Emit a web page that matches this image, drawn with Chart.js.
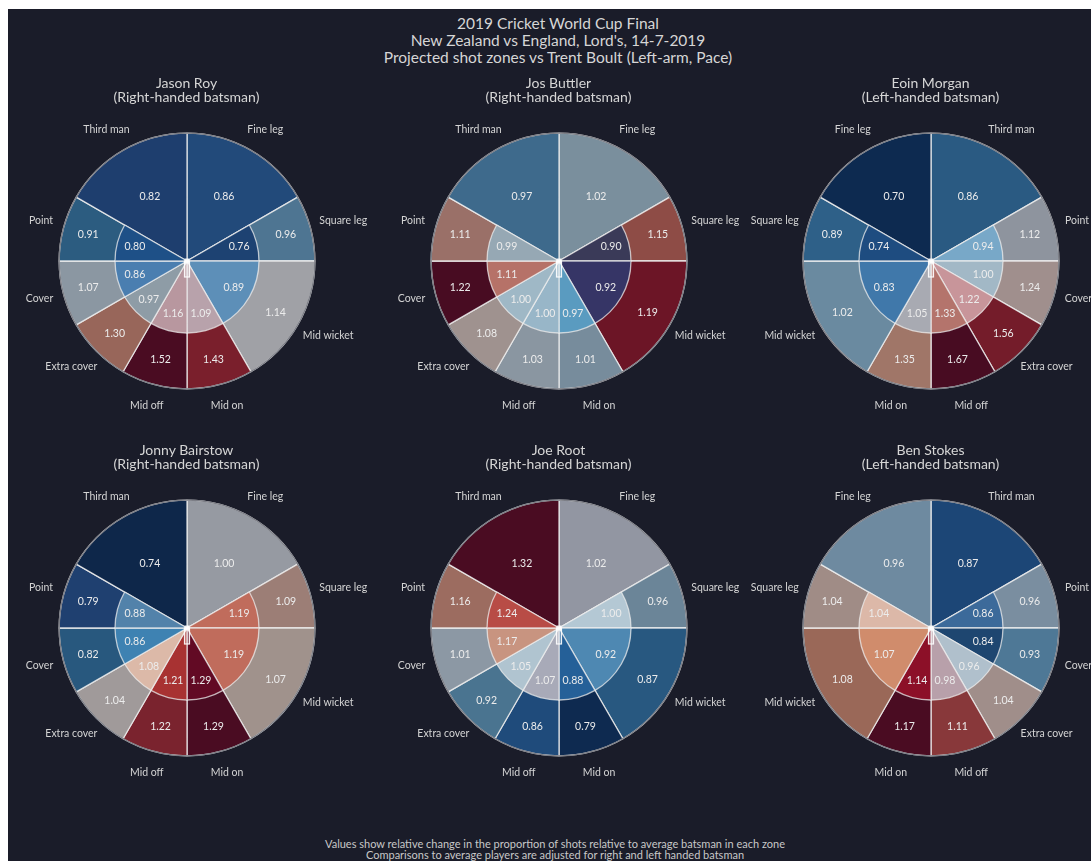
<!DOCTYPE html>
<html>
<head>
<meta charset="utf-8">
<script src="https://cdn.jsdelivr.net/npm/chart.js@4.4.1/dist/chart.umd.min.js"></script>
<style>
  html, body { margin: 0; padding: 0; background: #ffffff; }
  body { width: 1091px; height: 861px; position: relative; overflow: hidden; font-family: Lato, "Open Sans", sans-serif; }
  #bg { position: absolute; left: 8px; top: 9px; width: 1083px; height: 852px; background: #1a1c29; }
  .txt { position: absolute; text-align: center; color: #d6d6d6; white-space: nowrap; }
  #title { left: 258px; width: 600px; top: 15px; font-size: 15.5px; line-height: 17px; }
  #foot { left: 255px; width: 600px; top: 837.5px; font-size: 11px; line-height: 11.5px; color: #c8c8c8; }
  .ptitle { font-size: 14px; line-height: 14.5px; width: 300px; }
  .panel { position: absolute; width: 400px; height: 400px; }
  .panel canvas { position: absolute; left: 0; top: 0; }
</style>
</head>
<body>
<div id="bg"></div>
<div id="title" class="txt">2019 Cricket World Cup Final<br>New Zealand vs England, Lord's, 14-7-2019<br>Projected shot zones vs Trent Boult (Left-arm, Pace)</div>
<div id="foot" class="txt">Values show relative change in the proportion of shots relative to average batsman in each zone<br>Comparisons to average players are adjusted for right and left handed batsman</div>
<div id="panels"></div>
<script>
// zones, clockwise from the top, and their angular widths (degrees)
var rhZones = ['Fine leg', 'Square leg', 'Mid wicket', 'Mid on', 'Mid off', 'Extra cover', 'Cover', 'Point', 'Third man'];
var rhSpan = [60, 30, 60, 30, 30, 30, 30, 30, 60];
var lhZones = ['Third man', 'Point', 'Cover', 'Extra cover', 'Mid off', 'Mid on', 'Mid wicket', 'Square leg', 'Fine leg'];
var lhSpan = [60, 30, 30, 30, 30, 30, 60, 30, 60];

var players = ['Jason Roy', 'Jos Buttler', 'Eoin Morgan', 'Jonny Bairstow', 'Joe Root', 'Ben Stokes'];
var hands = ['Right', 'Right', 'Left', 'Right', 'Right', 'Left'];

// outer ring values and inner ring values (null = no inner zone)
var royOuter = [0.86, 0.96, 1.14, 1.43, 1.52, 1.30, 1.07, 0.91, 0.82];
var royInner = [null, 0.76, 0.89, 1.09, 1.16, 0.97, 0.86, 0.80, null];
var buttlerOuter = [1.02, 1.15, 1.19, 1.01, 1.03, 1.08, 1.22, 1.11, 0.97];
var buttlerInner = [null, 0.90, 0.92, 0.97, 1.00, 1.00, 1.11, 0.99, null];
var morganOuter = [0.86, 1.12, 1.24, 1.56, 1.67, 1.35, 1.02, 0.89, 0.70];
var morganInner = [null, 0.94, 1.00, 1.22, 1.33, 1.05, 0.83, 0.74, null];
var bairstowOuter = [1.00, 1.09, 1.07, 1.29, 1.22, 1.04, 0.82, 0.79, 0.74];
var bairstowInner = [null, 1.19, 1.19, 1.29, 1.21, 1.08, 0.86, 0.88, null];
var rootOuter = [1.02, 0.96, 0.87, 0.79, 0.86, 0.92, 1.01, 1.16, 1.32];
var rootInner = [null, 1.00, 0.92, 0.88, 1.07, 1.05, 1.17, 1.24, null];
var stokesOuter = [0.87, 0.96, 0.93, 1.04, 1.11, 1.17, 1.08, 1.04, 0.96];
var stokesInner = [null, 0.86, 0.84, 0.96, 0.98, 1.14, 1.07, 1.04, null];

// fill colours
var royOuterCol = ['#224a7a', '#4e7592', '#a0a1a6', '#7a1f2c', '#4a0c22', '#98665a', '#8b97a2', '#2c5c80', '#1e3e6e'];
var royInnerCol = [null, '#1d4272', '#5d8fb8', '#b8a2ab', '#b8979f', '#8e9ca6', '#4a7eb0', '#1e5087', null];
var buttlerOuterCol = ['#7a8f9d', '#8e4c46', '#6c1526', '#778c9c', '#8a96a1', '#9f928f', '#480c22', '#9a7068', '#3e6a8c'];
var buttlerInnerCol = [null, '#3a3a58', '#363566', '#5a9bc0', '#98b6c8', '#9fb8c6', '#b67268', '#96a8b4', null];
var morganOuterCol = ['#2a5a82', '#8e949e', '#a08f8d', '#741c2a', '#480c22', '#a07668', '#6a8aa0', '#2e6088', '#0d2a50'];
var morganInnerCol = [null, '#78a8c8', '#a2b8c6', '#c8959a', '#b4746c', '#a8aab2', '#4078aa', '#1e4c80', null];
var bairstowOuterCol = ['#969aa2', '#9c7e76', '#a0928c', '#4a0c22', '#7a232e', '#a09a9a', '#28587e', '#1f4070', '#0e274a'];
var bairstowInnerCol = [null, '#c06c5c', '#c06c5c', '#620a24', '#a83232', '#dcb9a8', '#3e82b2', '#5282aa', null];
var rootOuterCol = ['#9296a2', '#6b8598', '#285880', '#0e2a50', '#1f4b7b', '#4a7490', '#8c98a4', '#9c6c60', '#4a0c22'];
var rootInnerCol = [null, '#b4c8d4', '#4e88b2', '#256098', '#a8aab8', '#b0c4d0', '#c89480', '#b84c46', null];
var stokesOuterCol = ['#1c4676', '#7a8ea0', '#4e7896', '#a08e8a', '#88383a', '#4a0c22', '#9a6858', '#a08c86', '#6e8aa0'];
var stokesInnerCol = [null, '#3c6a9a', '#1e4670', '#b0c0cc', '#b8a0aa', '#8c1028', '#d08c6c', '#dcb8a8', null];

var outerVals = [royOuter, buttlerOuter, morganOuter, bairstowOuter, rootOuter, stokesOuter];
var innerVals = [royInner, buttlerInner, morganInner, bairstowInner, rootInner, stokesInner];
var outerCols = [royOuterCol, buttlerOuterCol, morganOuterCol, bairstowOuterCol, rootOuterCol, stokesOuterCol];
var innerCols = [royInnerCol, buttlerInnerCol, morganInnerCol, bairstowInnerCol, rootInnerCol, stokesInnerCol];

var centers = [[186.5, 261], [558.5, 261], [930.5, 261], [186.5, 628], [558.5, 628], [930.5, 628]];
var FONT = 'Lato, "Open Sans", sans-serif';

// value and zone labels for the outer pie
var outerLabels = {
    id: 'outerLabels',
    afterDatasetsDraw: function(chart, args, opts) {
        var ctx = chart.ctx;
        var arcs = chart.getDatasetMeta(0).data;
        ctx.save();
        ctx.textAlign = 'center';
        ctx.textBaseline = 'middle';
        // grey rim
        var a0 = arcs[0];
        ctx.beginPath();
        ctx.arc(a0.x, a0.y, a0.outerRadius, 0, Math.PI * 2);
        ctx.strokeStyle = '#7c7e86';
        ctx.lineWidth = 1.3;
        ctx.stroke();
        arcs.forEach(function(arc, i) {
            var mid = (arc.startAngle + arc.endAngle) / 2;
            var R = arc.outerRadius;
            var r = opts.inner[i] == null ? R * 0.58 : R * 0.80;
            ctx.font = '10.5px ' + FONT;
            ctx.fillStyle = '#ececec';
            ctx.fillText(opts.values[i].toFixed(2), arc.x + Math.cos(mid) * r, arc.y + Math.sin(mid) * r);
            // zone name, pushed out by part of its own width
            ctx.fillStyle = '#d4d4d4';
            var lx = Math.cos(mid), ly = Math.sin(mid);
            var w = ctx.measureText(opts.zones[i]).width;
            ctx.fillText(opts.zones[i], arc.x + lx * (R * 1.1 + 0.44 * w), arc.y + ly * R * 1.18 - 1);
        });
        ctx.restore();
    }
};

// value labels for the inner pie, plus the pitch marker at the centre
var innerLabels = {
    id: 'innerLabels',
    afterDatasetsDraw: function(chart, args, opts) {
        var ctx = chart.ctx;
        var arcs = chart.getDatasetMeta(0).data;
        ctx.save();
        ctx.textAlign = 'center';
        ctx.textBaseline = 'middle';
        ctx.font = '10.5px ' + FONT;
        ctx.fillStyle = '#ececec';
        arcs.forEach(function(arc, i) {
            if (opts.values[i] == null) return;
            var mid = (arc.startAngle + arc.endAngle) / 2;
            var r = arc.outerRadius * 0.75;
            ctx.fillText(opts.values[i].toFixed(2), arc.x + Math.cos(mid) * r, arc.y + Math.sin(mid) * r);
        });
        var c = arcs[0];
        ctx.fillStyle = 'rgba(255,255,255,0.3)';
        ctx.strokeStyle = 'rgba(255,255,255,0.9)';
        ctx.lineWidth = 1.2;
        ctx.fillRect(c.x - 2.5, c.y, 5, 16);
        ctx.strokeRect(c.x - 2.5, c.y, 5, 16);
        ctx.fillStyle = 'rgba(255,255,255,0.85)';
        ctx.fillRect(c.x - 2.5, c.y - 2.5, 5, 5);
        ctx.restore();
    }
};

function baseOptions() {
    return {
        responsive: false,
        animation: false,
        events: [],
        layout: { padding: 71.5 },
        plugins: { legend: { display: false }, tooltip: { enabled: false }, title: { display: false } }
    };
}

var holder = document.getElementById('panels');
players.forEach(function(name, p) {
    var cx = centers[p][0], cy = centers[p][1];
    var right = hands[p] === 'Right';
    var zones = right ? rhZones : lhZones;
    var span = right ? rhSpan : lhSpan;

    var t = document.createElement('div');
    t.className = 'txt ptitle';
    t.style.left = (cx - 150) + 'px';
    t.style.top = (cy - 185.5) + 'px';
    t.innerHTML = name + '<br>(' + hands[p] + '-handed batsman)';
    document.body.appendChild(t);

    var div = document.createElement('div');
    div.className = 'panel';
    div.style.left = (cx - 200) + 'px';
    div.style.top = (cy - 200) + 'px';
    var c1 = document.createElement('canvas');
    var c2 = document.createElement('canvas');
    c1.width = c2.width = 400;
    c1.height = c2.height = 400;
    div.appendChild(c1);
    div.appendChild(c2);
    holder.appendChild(div);

    var o1 = baseOptions();
    o1.plugins.outerLabels = { values: outerVals[p], inner: innerVals[p], zones: zones };
    new Chart(c1.getContext('2d'), {
        type: 'pie',
        data: {
            labels: zones,
            datasets: [{
                data: span,
                backgroundColor: outerCols[p],
                borderColor: 'rgba(238,238,238,0.85)',
                borderWidth: 1.3
            }]
        },
        options: o1,
        plugins: [outerLabels]
    });

    var o2 = baseOptions();
    o2.radius = '56.3%';
    o2.plugins.innerLabels = { values: innerVals[p] };
    new Chart(c2.getContext('2d'), {
        type: 'pie',
        data: {
            labels: zones,
            datasets: [{
                data: span,
                backgroundColor: innerCols[p].map(function(c) { return c || 'rgba(0,0,0,0)'; }),
                borderColor: 'rgba(238,238,238,0.75)',
                borderWidth: innerVals[p].map(function(v) { return v == null ? 0 : 1.3; })
            }]
        },
        options: o2,
        plugins: [innerLabels]
    });
});
</script>
</body>
</html>
